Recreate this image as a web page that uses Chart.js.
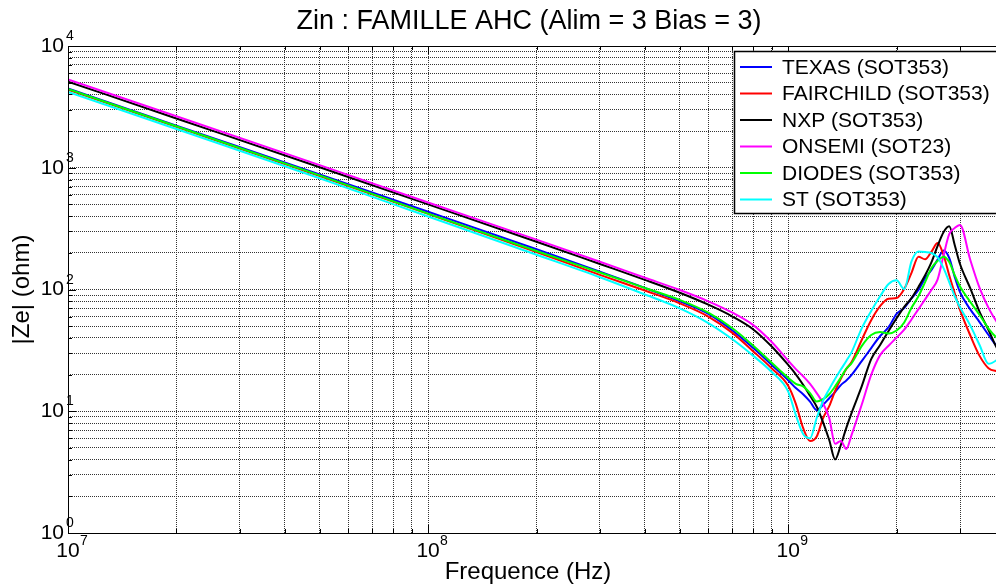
<!DOCTYPE html>
<html>
<head>
<meta charset="utf-8">
<title>Zin : FAMILLE AHC</title>
<script src="https://cdn.jsdelivr.net/npm/chart.js@4.4.1/dist/chart.umd.min.js"></script>
<style>
  html, body { margin: 0; padding: 0; background: #fff; overflow: hidden; }
  #cadre { width: 1012px; height: 588px; }
</style>
</head>
<body>
<div id="cadre"><canvas id="graphe" width="1012" height="588"></canvas></div>
<script>
// Fréquences de mesure (Hz)
const frequences = [1e7, 2e7, 5e7, 1e8, 2e8, 3e8, 4e8, 5e8, 6e8, 7e8, 8e8, 9e8,
  1e9, 1.05e9, 1.1e9, 1.15e9, 1.2e9, 1.25e9, 1.3e9, 1.35e9, 1.4e9, 1.45e9, 1.5e9,
  1.6e9, 1.7e9, 1.8e9, 1.9e9, 2e9, 2.1e9, 2.2e9, 2.3e9, 2.4e9, 2.5e9, 2.6e9,
  2.7e9, 2.8e9, 2.9e9, 3e9, 3.2e9, 3.4e9, 3.6e9, 3.8e9, 4e9];

// |Ze| (ohm), une liste par fabricant
const texas = [4480, 2220, 880, 435, 214, 140, 103, 80, 63, 46, 33, 24,
  18, 15.5, 13.8, 12, 10.2, 11.3, 12.8, 14.4, 16.4, 17.9, 19.9,
  25.8, 33, 41.5, 49, 63, 70.5, 84.5, 99, 124, 145, 176,
  209, 182, 127, 95, 69, 54, 42.3, 34, 29];
const fairchild = [4380, 2170, 855, 418, 203, 132, 98, 77, 60, 44, 31, 22.5,
  16.2, 11.5, 7.3, 5.7, 6.2, 8.8, 11, 14.7, 18.5, 22.2, 25.4,
  38.5, 56, 73, 84, 85, 101, 137, 186, 177, 205, 241,
  192, 131, 93, 68, 42.3, 28.5, 22.6, 21.4, 21];
const nxp = [5100, 2540, 1010, 500, 247, 162, 120, 94, 75, 60, 47, 34,
  24, 20.1, 16.5, 13.4, 10.9, 8.1, 5.8, 4.02, 5.28, 7.3, 9.7,
  16, 26.8, 35, 45.7, 58, 72, 85, 105, 131, 168, 228,
  295, 330, 232, 162, 103, 65.5, 46.5, 33, 28];
const onsemi = [5300, 2650, 1050, 518, 257, 169, 125, 99, 80, 64.5, 51, 37,
  26, 22.2, 19.4, 16.8, 14.1, 11.6, 8.8, 5.4, 5.7, 4.9, 6.4,
  11.3, 19.9, 28.9, 34.5, 40.3, 46.8, 56.7, 69, 83, 99.5, 121,
  190, 285, 320, 339, 177, 103, 70.6, 54, 46];
const diodes = [4430, 2190, 865, 420, 207, 138, 103, 82, 64.5, 48, 34.5, 25,
  18.8, 16.8, 16, 14.1, 12, 12.6, 13.8, 16, 18.9, 22.4, 24.8,
  34.3, 42.3, 44.8, 43.5, 46, 53.6, 70.7, 88, 115, 150, 172,
  186, 168, 131, 106, 79.5, 61.8, 47.8, 40, 36];
const st = [4200, 2080, 820, 398, 193, 126, 91, 70, 53, 39, 28.5, 21,
  14.5, 9.3, 6.5, 6.0, 8.8, 12.2, 15.2, 18.5, 22, 25.9, 30.6,
  48, 66.6, 88, 111, 119, 101, 170, 205, 203, 199, 184,
  150, 115, 88, 71.5, 51, 35, 24.5, 26.4, 30];

const noms = ['TEXAS (SOT353)', 'FAIRCHILD (SOT353)', 'NXP (SOT353)', 'ONSEMI (SOT23)', 'DIODES (SOT353)', 'ST (SOT353)'];
const couleurs = ['#0000ff', '#ff0000', '#000000', '#ff00ff', '#00ff00', '#00ffff'];
const valeurs = [texas, fairchild, nxp, onsemi, diodes, st];

// Graduations (exposants des décades)
const exposantsX = [7, 8, 9];
const exposantsY = [0, 1, 2, 3, 4];

// Grille mineure façon MATLAB : 1..9 x 10^n
function grilleLog(eMin, eMax, max) {
  const t = [];
  for (let e = eMin; e <= eMax; e++) {
    for (let m = 1; m <= 9; m++) {
      const v = m * Math.pow(10, e);
      if (v <= max) t.push(v);
    }
  }
  return t;
}
const grilleX = grilleLog(7, 9, 4e9);
const grilleY = grilleLog(0, 4, 1e4);

const police = 'Liberation Sans, Arial, Helvetica, sans-serif';
Chart.defaults.font.family = police;

// Textes, graduations intérieures, cadre et légende
const habillage = {
  id: 'habillage',
  afterDraw(chart) {
    const { ctx, chartArea: a, scales: { x, y } } = chart;
    ctx.save();

    // petites graduations vers l'intérieur
    ctx.strokeStyle = '#000';
    ctx.lineWidth = 1;
    ctx.beginPath();
    grilleX.forEach(v => {
      const px = Math.round(x.getPixelForValue(v)) + 0.5;
      const l = Number.isInteger(Math.log10(v)) ? 8 : 4;
      ctx.moveTo(px, a.bottom); ctx.lineTo(px, a.bottom - l);
      ctx.moveTo(px, a.top); ctx.lineTo(px, a.top + l);
    });
    grilleY.forEach(v => {
      const py = Math.round(y.getPixelForValue(v)) + 0.5;
      const l = Number.isInteger(Math.log10(v)) ? 8 : 4;
      ctx.moveTo(a.left, py); ctx.lineTo(a.left + l, py);
      ctx.moveTo(a.right, py); ctx.lineTo(a.right - l, py);
    });
    ctx.stroke();

    // cadre
    ctx.strokeRect(Math.round(a.left) + 0.5, Math.round(a.top) + 0.5,
      Math.round(a.right - a.left), Math.round(a.bottom - a.top));

    // étiquettes 10^n
    ctx.fillStyle = '#000';
    exposantsX.forEach(e => {
      const px = x.getPixelForValue(Math.pow(10, e));
      ctx.font = '21px ' + police;
      ctx.textAlign = 'center';
      ctx.textBaseline = 'alphabetic';
      ctx.fillText('10', px, a.bottom + 24);
      ctx.font = '14px ' + police;
      ctx.textAlign = 'left';
      ctx.fillText(String(e), px + 12, a.bottom + 12);
    });
    exposantsY.forEach(e => {
      const py = y.getPixelForValue(Math.pow(10, e));
      ctx.font = '21px ' + police;
      ctx.textAlign = 'right';
      ctx.textBaseline = 'middle';
      ctx.fillText('10', a.left - 4, py);
      ctx.font = '14px ' + police;
      ctx.textAlign = 'left';
      ctx.textBaseline = 'alphabetic';
      ctx.fillText(String(e), a.left - 2, py - 6);
    });

    // titre et noms des axes
    ctx.textAlign = 'center';
    ctx.textBaseline = 'middle';
    ctx.font = '27px ' + police;
    ctx.fillText('Zin : FAMILLE AHC (Alim = 3 Bias = 3)', 529, 22);
    ctx.font = '24px ' + police;
    ctx.fillText('Frequence (Hz)', 528, 572);
    ctx.save();
    ctx.translate(22, (a.top + a.bottom) / 2);
    ctx.rotate(-Math.PI / 2);
    ctx.fillText('|Ze| (ohm)', 0, 0);
    ctx.restore();

    // légende
    const lx = 734.5, ly = 51.5, lw = 270, lh = 162;
    ctx.fillStyle = '#fff';
    ctx.fillRect(lx, ly, lw, lh);
    ctx.strokeStyle = '#000';
    ctx.lineWidth = 1.5;
    ctx.strokeRect(lx, ly, lw, lh);
    chart.data.datasets.forEach((ds, i) => {
      const ry = 67 + i * 26.5;
      ctx.strokeStyle = ds.borderColor;
      ctx.lineWidth = 2;
      ctx.beginPath();
      ctx.moveTo(740, ry); ctx.lineTo(772, ry);
      ctx.stroke();
      ctx.fillStyle = '#000';
      ctx.font = '21px ' + police;
      ctx.textAlign = 'left';
      ctx.textBaseline = 'middle';
      ctx.fillText(ds.label, 782, ry + 1);
    });
    ctx.restore();
  }
};

const axeLog = (min, max, grille) => ({
  type: 'logarithmic',
  min: min,
  max: max,
  ticks: { display: false },
  grid: { color: '#333333', lineWidth: 1, drawTicks: false },
  border: { display: false, dash: [1, 1] },
  afterBuildTicks: scale => { scale.ticks = grille.map(v => ({ value: v })); }
});

new Chart(document.getElementById('graphe'), {
  type: 'line',
  data: {
    datasets: valeurs.map((serie, i) => ({
      label: noms[i],
      data: frequences.map((f, k) => ({ x: f, y: serie[k] })),
      borderColor: couleurs[i],
      backgroundColor: couleurs[i],
      borderWidth: 2,
      pointRadius: 0,
      cubicInterpolationMode: 'monotone',
      order: valeurs.length - i
    }))
  },
  options: {
    responsive: false,
    animation: false,
    devicePixelRatio: 1,
    layout: { padding: { left: 68, right: 7, top: 46, bottom: 55 } },
    plugins: { legend: { display: false }, tooltip: { enabled: false } },
    scales: {
      x: axeLog(1e7, 4e9, grilleX),
      y: axeLog(1, 1e4, grilleY)
    }
  },
  plugins: [habillage]
});
</script>
</body>
</html>
